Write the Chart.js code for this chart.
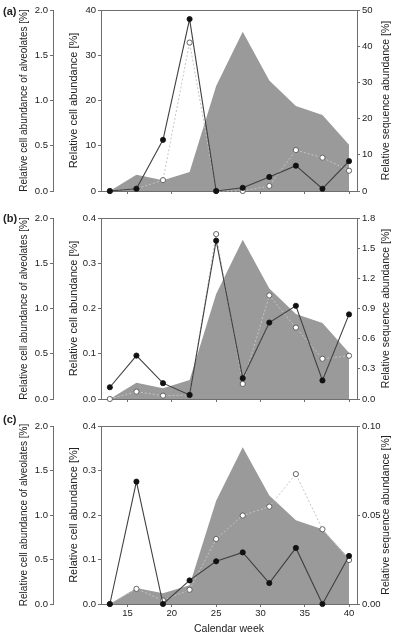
<!DOCTYPE html>
<html><head><meta charset="utf-8">
<script src="https://cdn.jsdelivr.net/npm/chart.js@4"></script>
<style>
html,body{margin:0;padding:0;background:#fff;width:400px;height:636px;overflow:hidden;}
.panel{position:absolute;left:0;width:400px;}
.lbl{position:absolute;left:3px;font:bold 11px "Liberation Sans",Arial,sans-serif;color:#222;line-height:12px;}
</style></head><body>
<div class="panel" style="top:0;height:208px"><canvas id="ca"></canvas></div>
<div class="panel" style="top:208px;height:208px"><canvas id="cb"></canvas></div>
<div class="panel" style="top:416px;height:220px"><canvas id="cc"></canvas></div>
<div class="lbl" style="top:5px">(a)</div>
<div class="lbl" style="top:212px">(b)</div>
<div class="lbl" style="top:413px">(c)</div>
<script>
const weeks = [13,16,19,22,25,28,31,34,37,40];
const xTicks = [15,20,25,30,35,40];
const alveolates = [0,0.18,0.12,0.21,1.16,1.76,1.22,0.94,0.84,0.51];
const cellA = [0,0.5,11.3,38,0,0.7,3.1,5.6,0.5,6.6];
const seqA  = [0,0.6,3.0,41,0,0,1.4,11.3,9.2,5.6];
const cellB = [0.026,0.096,0.035,0.009,0.35,0.046,0.169,0.206,0.041,0.187];
const seqB  = [0,0.073,0.033,0.04,1.64,0.15,1.03,0.71,0.40,0.43];
const cellC = [0,0.275,0,0.053,0.096,0.116,0.047,0.126,0,0.108];
const seqC  = [0,0.0085,0.002,0.008,0.0365,0.0497,0.0547,0.073,0.042,0.0247];

const RIGHT_TITLE = 'Relative sequence abundance [%]';

Chart.defaults.font.family = '"Liberation Sans", Arial, sans-serif';
Chart.defaults.color = '#222';
const AX = '#6e6e6e';
const pts = arr => weeks.map((w,i)=>({x:w,y:arr[i]}));

const framePlugin = {id:'frameTop', afterDatasetsDraw(chart){
  const {ctx, chartArea:a} = chart;
  ctx.save(); ctx.strokeStyle = AX; ctx.lineWidth = 1;
  ctx.beginPath(); ctx.moveTo(a.left, Math.round(a.top)+0.5); ctx.lineTo(a.right, Math.round(a.top)+0.5); ctx.stroke();
  ctx.restore();
}};
const rightTitlePlugin = {id:'rightTitle', afterDraw(chart){
  const s = chart.scales.ySeq, ctx = chart.ctx;
  ctx.save();
  ctx.translate(s.right - 14, (s.top + s.bottom)/2);
  ctx.rotate(-Math.PI/2);
  ctx.font = '10.5px "Liberation Sans", Arial, sans-serif';
  ctx.fillStyle = '#222'; ctx.textAlign = 'center'; ctx.textBaseline = 'middle';
  ctx.fillText(RIGHT_TITLE, 0, 0);
  ctx.restore();
}};

function yAxis(pos, weight, max, step, dec, width, title, tsize, tpad){
  return {
    type:'linear', position:pos, weight:weight, min:0, max:max,
    afterFit: s => { s.width = width; },
    ticks:{stepSize:step, callback:v=>Number(v).toFixed(dec), font:{size:9.5}, padding:2, color:'#222'},
    grid:{drawOnChartArea:false, drawTicks:true, tickLength:3, color:AX},
    border:{color:AX, width:1},
    title:{display:!!title, text:title || '', font:{size:tsize}, color:'#222', padding:{top:tpad, bottom:0}}
  };
}

function makePanel(id, cell, seq, cMax, cStep, cDec, sMax, sStep, sDec, showX){
  new Chart(document.getElementById(id), {
    type:'line',
    data:{datasets:[
      {data:pts(cell), yAxisID:'yCell', order:1, borderColor:'#404040', borderWidth:1.1,
       pointRadius:2.6, pointBackgroundColor:'#111', pointBorderColor:'#111', pointBorderWidth:0.8, clip:false, tension:0},
      {data:pts(seq), yAxisID:'ySeq', order:2, borderColor:'#c4c4c4', borderWidth:1, borderDash:[2,2],
       pointRadius:2.6, pointBackgroundColor:'#fff', pointBorderColor:'#555', pointBorderWidth:0.9, clip:false, tension:0},
      {data:pts(alveolates), yAxisID:'yOut', order:3, fill:'origin', backgroundColor:'#9a9a9a',
       borderWidth:0, borderColor:'rgba(0,0,0,0)', pointRadius:0, clip:false, tension:0}
    ]},
    options:{
      responsive:true, maintainAspectRatio:false, animation:false,
      layout:{padding:{top:10, bottom: showX ? 1 : 14, left:0, right:0}},
      plugins:{legend:{display:false}, tooltip:{enabled:false}},
      scales:{
        x:{type:'linear', position:'bottom', min:12, max:40.9,
           afterBuildTicks: s => { s.ticks = xTicks.map(v=>({value:v})); },
           ticks:{display:showX, font:{size:9.5}, padding:1, maxRotation:0, autoSkip:false, color:'#222'},
           grid:{drawOnChartArea:false, drawTicks:true, tickLength:3, color:AX},
           border:{color:AX, width:1},
           title:{display:showX, text:'Calendar week', font:{size:10.5}, color:'#222', padding:{top:2,bottom:0}}
        },
        yOut: yAxis('left', 2, 2, 0.5, 1, 53, 'Relative cell abundance of alveolates [%]', 10, 18),
        yCell: yAxis('left', 1, cMax, cStep, cDec, 48, 'Relative cell abundance [%]', 11, 14.4),
        ySeq: yAxis('right', 1, sMax, sStep, sDec, 43, '', 10.5, 0)
      }
    },
    plugins:[framePlugin, rightTitlePlugin]
  });
}

makePanel('ca', cellA, seqA, 40, 10, 0, 50, 10, 0, false);
makePanel('cb', cellB, seqB, 0.4, 0.1, 1, 1.8, 0.3, 1, false);
makePanel('cc', cellC, seqC, 0.4, 0.1, 1, 0.1, 0.05, 2, true);
</script>
</body></html>
